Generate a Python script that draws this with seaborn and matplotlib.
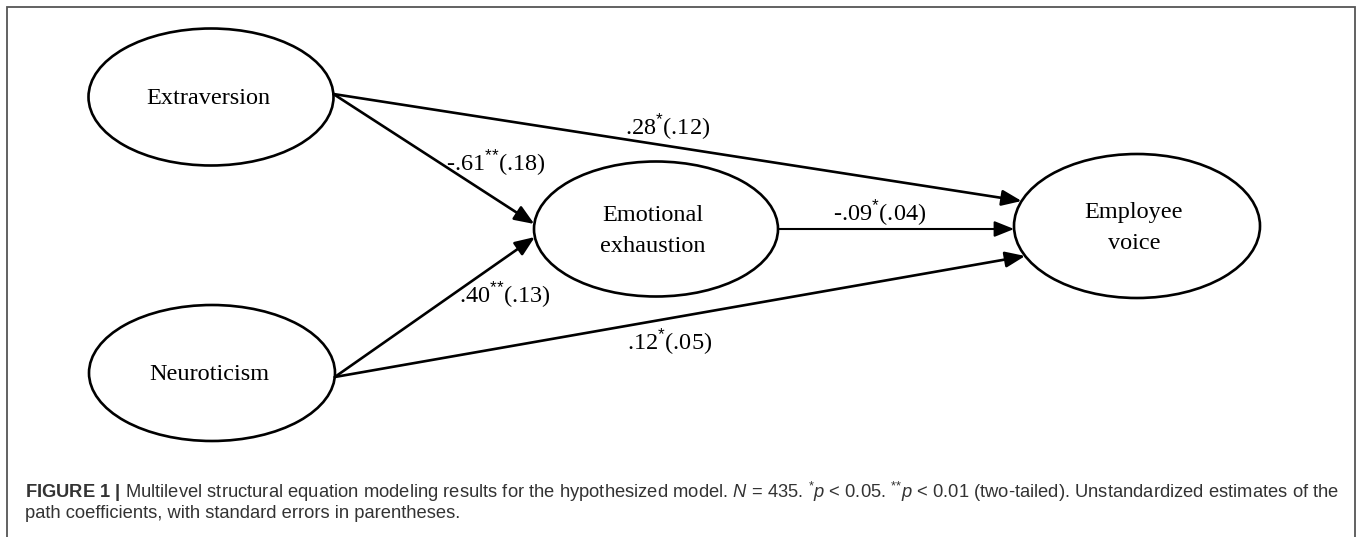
import numpy as np
import seaborn as sns
import matplotlib.pyplot as plt
from matplotlib.patches import Ellipse

# path model data
nodes = ["Extraversion", "Neuroticism", "Emotional\nexhaustion", "Employee\nvoice"]
path_from = ["Extraversion", "Extraversion", "Neuroticism", "Neuroticism", "Emotional\nexhaustion"]
path_to = ["Employee\nvoice", "Emotional\nexhaustion", "Emotional\nexhaustion", "Employee\nvoice", "Employee\nvoice"]
estimates = [0.28, -0.61, 0.40, 0.12, -0.09]
std_errors = [0.12, 0.18, 0.13, 0.05, 0.04]
stars = ["*", "**", "**", "*", "*"]

caption_1 = (r"$\bf{FIGURE\ 1\ |}$ Multilevel structural equation modeling results for the "
             r"hypothesized model. $\it{N}$ = 435. $^{*}\it{p}$ < 0.05. $^{{*}{*}}\it{p}$ < 0.01 "
             r"(two-tailed). Unstandardized estimates of the")
caption_2 = "path coefficients, with standard errors in parentheses."

# layout (canvas pixels, y downwards)
W, H = 1357, 537
node_xy = {"Extraversion": (211, 97), "Neuroticism": (212, 373),
           "Emotional\nexhaustion": (656, 229), "Employee\nvoice": (1137, 226)}
node_wh = {"Extraversion": (245, 137), "Neuroticism": (246, 136),
           "Emotional\nexhaustion": (244, 135), "Employee\nvoice": (246, 144)}
src_dy = [-3, -3, 4, 4, 0]
dst_dy = [-25, -5, 8, 30, 3]
label_xy = [(668, 127), (496, 163), (505, 295), (670, 342), (880, 213)]


def fmt(v):
    s = f"{v:.2f}"
    return s.replace("0.", ".", 1)


def edge_x(name, dy, side):
    cx, cy = node_xy[name]
    w, h = node_wh[name]
    a, b = w / 2, h / 2
    return cx + side * a * np.sqrt(max(0.0, 1 - (dy / b) ** 2)), cy + dy


sns.set_theme(style="white")
plt.rcParams["mathtext.fontset"] = "custom"
plt.rcParams["mathtext.rm"] = "Liberation Sans"
plt.rcParams["mathtext.it"] = "Liberation Sans:italic"
plt.rcParams["mathtext.bf"] = "Liberation Sans:bold"

fig = plt.figure(figsize=(W / 100, H / 100), dpi=100)
ax = fig.add_axes([0, 0, 1, 1])
ax.set_xlim(0, W)
ax.set_ylim(H, 0)
ax.axis("off")

# frame
frame_c = "#555555"
ax.plot([7, 7, 1355, 1355], [H, 7, 7, H], color=frame_c, lw=1.3, solid_joinstyle="miter")

serif = "Liberation Serif"
for n in nodes:
    cx, cy = node_xy[n]
    w, h = node_wh[n]
    ax.add_patch(Ellipse((cx, cy), w, h, fill=False, ec="black", lw=1.9))
    ax.text(cx - 3, cy + 2, n, ha="center", va="center", family=serif,
            fontsize=17.5, color="black", linespacing=1.6)

for i in range(len(estimates)):
    x0, y0 = edge_x(path_from[i], src_dy[i], 1)
    x1, y1 = edge_x(path_to[i], dst_dy[i], -1)
    ax.annotate("", xy=(x1, y1), xytext=(x0, y0),
                arrowprops=dict(arrowstyle="-|>,head_length=0.6,head_width=0.24",
                                mutation_scale=20, lw=1.9 if i < 4 else 1.5,
                                color="black", shrinkA=0, shrinkB=0))
    st = "".join("{" + c + "}" for c in stars[i])
    lab = fmt(estimates[i]) + r"$^{" + st + r"}$" + "(" + fmt(std_errors[i]) + ")"
    lx, ly = label_xy[i]
    ax.text(lx, ly, lab, ha="center", va="center", family=serif,
            fontsize=17.5, color="black")

cap_c = "#333333"
t1 = ax.text(25, 492, caption_1, ha="left", va="center", family="Liberation Sans",
             fontsize=11, color=cap_c)
t2 = ax.text(25, 513, caption_2, ha="left", va="center", family="Liberation Sans",
             fontsize=11, color=cap_c)
fig.canvas.draw()
wpx = t1.get_window_extent().width
fs = 11 * (1337 - 25) / wpx
t1.set_fontsize(fs)
t2.set_fontsize(fs)

fig.savefig("out.png", dpi=100)
